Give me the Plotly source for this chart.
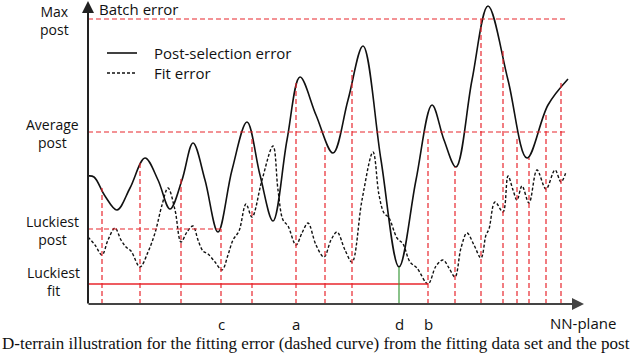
import plotly.graph_objects as go

# NN-plane position (x) and error level (y); the axis origin is at (0, 0)
post_x = [0, 6, 17, 29, 42, 57, 70, 82, 94, 105, 117, 130, 144, 159, 172, 185, 199, 212,
          228, 245, 260, 275, 293, 311, 328, 344, 356, 368, 384, 400, 420, 439, 460, 480]
post_y = [128, 127, 108, 94, 116, 146, 124, 95, 124, 161, 124, 72, 134, 182, 129, 83, 164, 227,
          189, 151, 204, 258, 144, 37, 124, 199, 164, 137, 224, 298, 224, 146, 199, 225]

fit_x = [0, 7, 14, 20, 27, 33, 38, 43, 52, 60, 67, 74, 80, 87, 93, 99, 105, 110, 115, 120,
         127, 134, 140, 145, 151, 158, 164, 174, 185, 190, 195, 200, 208, 214, 220, 228, 236,
         243, 249, 257, 264, 274, 285, 291, 296, 301, 309, 315, 322, 329, 340, 348, 355, 361,
         367, 373, 379, 386, 393, 398, 401, 407, 415, 420, 425, 429, 434, 441, 449, 458, 467,
         473, 478]
fit_y = [67, 59, 49, 64, 76, 64, 57, 53, 37, 52, 71, 99, 116, 94, 62, 72, 78, 64, 53, 50,
         42, 34, 49, 64, 73, 100, 87, 124, 158, 114, 84, 78, 59, 71, 81, 59, 47,
         64, 72, 54, 42, 104, 152, 109, 91, 86, 66, 60, 42, 36, 20, 38, 44, 36,
         27, 56, 71, 59, 46, 69, 75, 102, 92, 128, 114, 104, 118, 101, 134, 115, 134,
         122, 132]

# sample positions dropped onto the NN-plane and the error level they start from
drop_x = [14, 52, 93, 133, 164, 208, 237, 264, 340, 367, 393, 415, 429, 441, 458, 473]
drop_top = [116, 144, 127, 75, 168, 224, 157, 234, 167, 137, 286, 254, 167, 146, 192, 222]

max_post = 285
average_post = 172
luckiest_post = 75
luckiest_fit = 20

d_x, d_top = 311, 37
point_names = ["c", "a", "d", "b"]
point_x = [133, 208, 311, 340]

RED = "#e8262d"
FONT = "Open Sans"

fig = go.Figure()

# reference levels
for lvl in [max_post, average_post]:
    fig.add_shape(type="line", x0=0, x1=480, y0=lvl, y1=lvl,
                  line=dict(color=RED, width=1.2, dash="5px,3px"))
fig.add_shape(type="line", x0=0, x1=133, y0=luckiest_post, y1=luckiest_post,
              line=dict(color=RED, width=1.2, dash="5px,3px"))
fig.add_shape(type="line", x0=0, x1=340, y0=luckiest_fit, y1=luckiest_fit,
              line=dict(color=RED, width=1.3))

# drops to the NN-plane
for x, top in zip(drop_x, drop_top):
    fig.add_shape(type="line", x0=x, x1=x, y0=0, y1=top,
                  line=dict(color=RED, width=1.2, dash="5px,3px"))
fig.add_shape(type="line", x0=d_x, x1=d_x, y0=0, y1=d_top,
              line=dict(color="#3c9a3c", width=1.2))

fig.add_trace(go.Scatter(x=fit_x, y=fit_y, mode="lines", name="Fit error",
                         line=dict(color="#111111", width=1.4, dash="3px,2px",
                                   shape="spline", smoothing=1.0)))
fig.add_trace(go.Scatter(x=post_x, y=post_y, mode="lines", name="Post-selection error",
                         line=dict(color="#111111", width=1.6,
                                   shape="spline", smoothing=1.0)))

# axes with arrows
fig.add_annotation(x=0, y=303, ax=0, ay=-1, xref="x", yref="y", axref="x", ayref="y",
                   showarrow=True, arrowhead=2, arrowsize=1.2, arrowwidth=2,
                   arrowcolor="#222222", text="")
fig.add_annotation(x=496, y=0, ax=-1, ay=0, xref="x", yref="y", axref="x", ayref="y",
                   showarrow=True, arrowhead=2, arrowsize=1.2, arrowwidth=2,
                   arrowcolor="#444444", text="")

# manual legend
fig.add_shape(type="line", x0=19, x1=49, y0=251, y1=251, line=dict(color="#111111", width=1.6))
fig.add_shape(type="line", x0=19, x1=49, y0=231, y1=231,
              line=dict(color="#111111", width=1.4, dash="3px,2px"))

texts = [
    ("Batch error", 9, 295, "left", 15),
    ("Post-selection error", 64, 251, "left", 15),
    ("Fit error", 64, 231, "left", 15),
    ("Max<br>post", -34, 284, "center", 14),
    ("Average<br>post", -36, 171, "center", 14),
    ("Luckiest<br>post", -36, 74, "center", 14),
    ("Luckiest<br>fit", -35, 23, "center", 14),
    ("NN-plane", 495, -19, "center", 15),
]
for t, x, y, anchor, size in texts:
    fig.add_annotation(x=x, y=y, text=t, showarrow=False, xanchor=anchor, yanchor="middle",
                       font=dict(family=FONT, size=size, color="#111111"))
for name, x in zip(point_names, point_x):
    fig.add_annotation(x=x, y=-20, text=name, showarrow=False, yanchor="middle",
                       font=dict(family=FONT, size=15, color="#111111"))

# caption fragment visible under the figure
fig.add_annotation(x=0, y=0, xref="paper", yref="paper",
                   xanchor="left", yanchor="bottom",
                   text="D-terrain illustration for the fitting error (dashed curve) from the fitting data set and the post",
                   showarrow=False, font=dict(family="Liberation Serif", size=17, color="#111111"))

fig.update_layout(
    width=640, height=355,
    margin=dict(l=0, r=0, t=0, b=0),
    plot_bgcolor="white", paper_bgcolor="white",
    showlegend=False,
    xaxis=dict(range=[-88, 552], visible=False, fixedrange=True),
    yaxis=dict(range=[-51, 304], visible=False, fixedrange=True),
)

fig.write_html("out.html", config={"displayModeBar": False},
               post_script="document.body.style.margin = '0px';")
